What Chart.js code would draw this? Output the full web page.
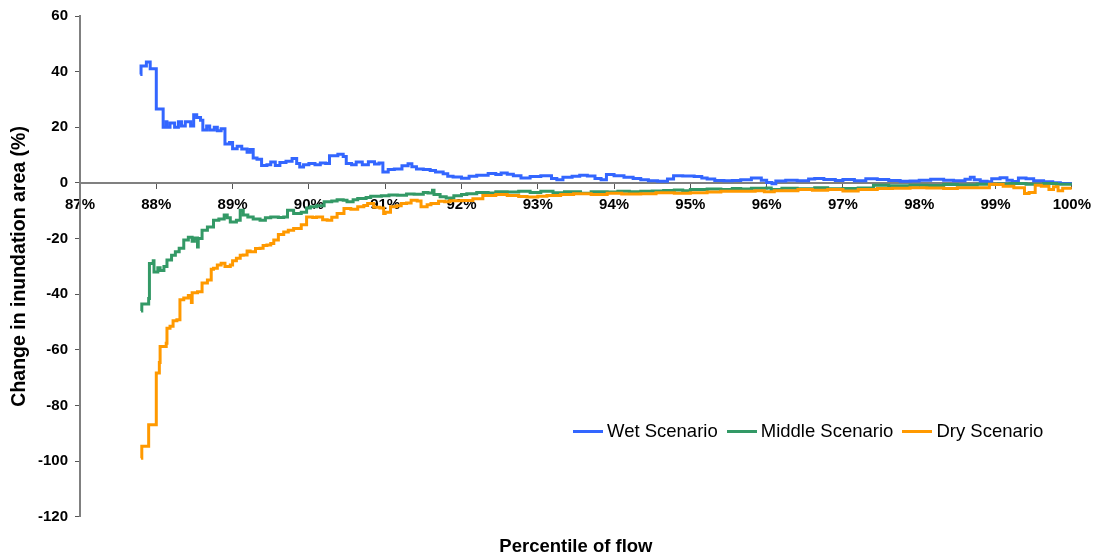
<!DOCTYPE html>
<html>
<head>
<meta charset="utf-8">
<title>Change in inundation area</title>
<script src="https://cdn.jsdelivr.net/npm/chart.js@4.4.1/dist/chart.umd.min.js"></script>
<style>
  html, body { margin: 0; padding: 0; background: #fff; }
  #wrap { position: relative; width: 1099px; height: 558px; }
  #legend {
    position: absolute; left: 573px; top: 419px;
    display: flex; align-items: center; white-space: nowrap;
    font: 18.5px "Liberation Sans", Arial, sans-serif; line-height: 24px; color: #000;
  }
  #legend .item { display: flex; align-items: center; margin-right: 9px; }
  #legend .swatch { display: inline-block; width: 30px; height: 3px; margin-right: 4px; }
</style>
</head>
<body>
<div id="wrap">
  <canvas id="chart" width="1099" height="558"></canvas>
  <div id="legend"></div>
</div>
<script>
// step change points: percentile of flow -> change in area (%)
const wetPct = [87.79, 87.80, 87.87, 87.92, 88.00, 88.09, 88.13, 88.14, 88.18, 88.24, 88.29, 88.33, 88.38, 88.45,
  88.49, 88.53, 88.58, 88.61, 88.66, 88.70, 88.76, 88.80, 88.85, 88.90, 88.96, 89.00, 89.06, 89.12, 89.19, 89.23,
  89.27, 89.32, 89.38, 89.45, 89.50, 89.56, 89.62, 89.70, 89.78, 89.84, 89.88, 89.93, 90.00, 90.08, 90.15, 90.22,
  90.27, 90.38, 90.45, 90.49, 90.56, 90.62, 90.70, 90.78, 90.86, 90.92, 90.97, 91.04, 91.12, 91.22, 91.30, 91.35,
  91.41, 91.50, 91.59, 91.66, 91.76, 91.82, 91.89, 92.00, 92.10, 92.20, 92.35, 92.45, 92.52, 92.60, 92.68, 92.78,
  92.90, 93.04, 93.18, 93.25, 93.33, 93.45, 93.55, 93.65, 93.75, 93.83, 93.90, 94.00, 94.13, 94.25, 94.35, 94.45,
  94.57, 94.70, 94.78, 94.90, 95.05, 95.15, 95.22, 95.32, 95.44, 95.55, 95.66, 95.80, 95.93, 96.00, 96.07, 96.12,
  96.25, 96.40, 96.55, 96.63, 96.75, 96.90, 97.00, 97.15, 97.30, 97.45, 97.60, 97.75, 97.88, 98.00, 98.15, 98.32,
  98.45, 98.60, 98.67, 98.72, 98.80, 98.89, 98.95, 99.06, 99.15, 99.22, 99.30, 99.40, 99.50, 99.63, 99.75, 99.85, 100.00];
const wetChange = [39, 42, 43.5, 41, 26.6, 20, 22, 20, 21.5, 20, 22, 20.5, 22, 20.5,
  24.5, 23.5, 22.5, 19, 20.5, 19, 20, 18.8, 19.5, 14, 14.5, 12.3, 13.2, 12.2, 11, 12,
  9, 8.5, 6.3, 6.5, 7.5, 6.3, 7.3, 7.8, 8.8, 7, 5.7, 6.5, 7, 6.5, 7.2, 7,
  9.8, 10.3, 9.5, 7, 6.5, 7.5, 6.5, 7.6, 6.8, 7.2, 3.9, 4.8, 5, 6.2, 6.9, 5.8,
  5, 4.8, 4.5, 3.9, 3.3, 2.4, 2.1, 1.7, 2.4, 2.8, 3.4, 3, 3.6, 3.1, 2.6, 1.8,
  2.3, 2.6, 1.6, 1.1, 2.0, 2.4, 2.8, 2.5, 1.6, 1.1, 3.0, 2.6, 2.0, 1.6, 1.1, 0.8,
  0.6, 1.4, 2.6, 2.5, 2.3, 1.8, 1.4, 0.9, 0.8, 0.9, 1.1, 1.8, 1.0, 0.2, -0.3, 0.7,
  1.0, 0.8, 1.4, 1.6, 1.2, 0.9, 1.2, 0.8, 1.5, 1.2, 0.9, 0.6, 0.7, 1.0, 1.3, 1.0,
  0.8, 1.3, 2.0, 1.1, 0.6, 0.4, 1.5, 1.9, 1.0, 0.5, 1.8, 1.5, 0.8, 0.4, 0.1, -0.2, -0.3];

const middlePct = [87.80, 87.81, 87.90, 87.91, 87.96, 87.97, 88.02, 88.05, 88.10, 88.14, 88.20, 88.25, 88.30, 88.36,
  88.42, 88.47, 88.50, 88.54, 88.55, 88.60, 88.67, 88.75, 88.82, 88.89, 88.93, 88.97, 89.05, 89.10, 89.14, 89.20,
  89.27, 89.36, 89.43, 89.50, 89.60, 89.67, 89.72, 89.80, 89.90, 89.97, 90.02, 90.10, 90.20, 90.30, 90.37, 90.45,
  90.50, 90.58, 90.64, 90.75, 90.81, 90.95, 91.05, 91.16, 91.28, 91.38, 91.50, 91.56, 91.62, 91.64, 91.72, 91.80,
  91.90, 92.00, 92.07, 92.20, 92.35, 92.45, 92.60, 92.75, 92.90, 93.04, 93.20, 93.35, 93.56, 93.70, 93.91, 94.05,
  94.20, 94.35, 94.50, 94.65, 94.79, 94.90, 95.00, 95.22, 95.40, 95.55, 95.66, 95.80, 96.00, 96.06, 96.20, 96.40,
  96.63, 96.80, 97.00, 97.20, 97.40, 97.60, 97.88, 98.10, 98.32, 98.50, 98.76, 99.00, 99.19, 99.40, 99.63, 99.80, 100.00];
const middleChange = [-46, -43.5, -41.5, -29, -28, -32, -30.5, -31.5, -30, -27.7, -26, -24.7, -23.5, -20.5,
  -19.5, -21, -19.8, -23, -20, -17, -15.8, -13.4, -13, -11.5, -12.5, -14, -13.4, -9.8, -11.5, -12.2,
  -13, -13.4, -12.5, -12.2, -12.4, -12.2, -9.8, -11, -10.5, -9, -8.6, -8.2, -6.8, -6.5, -6.0, -6.2,
  -6.8, -6.0, -5.6, -5.2, -4.8, -4.6, -4.3, -4.4, -4.0, -4.1, -3.4, -3.6, -2.6, -4.2, -5.0, -5.4,
  -4.6, -4.2, -3.9, -3.4, -3.6, -3.2, -3.3, -3.0, -3.4, -3.0, -3.5, -3.2, -3.7, -3.2, -3.3, -3.0,
  -3.2, -3.0, -2.9, -2.7, -2.5, -2.8, -2.4, -2.2, -2.4, -2.0, -2.2, -1.9, -1.8, -2.4, -1.9, -2.1,
  -1.7, -2.1, -2.0, -1.8, -0.8, -1.0, -0.8, -0.9, -0.6, -0.7, -0.5, -0.4, -0.2, -0.5, -0.2, -0.5, -0.7];

const dryPct = [87.80, 87.81, 87.90, 88.00, 88.04, 88.05, 88.13, 88.14, 88.18, 88.22, 88.27, 88.31, 88.36, 88.42,
  88.46, 88.47, 88.54, 88.60, 88.67, 88.72, 88.75, 88.80, 88.85, 88.90, 88.97, 89.00, 89.05, 89.10, 89.14, 89.19,
  89.23, 89.30, 89.36, 89.40, 89.45, 89.50, 89.54, 89.60, 89.67, 89.73, 89.80, 89.90, 89.97, 90.05, 90.10, 90.18,
  90.24, 90.30, 90.37, 90.46, 90.55, 90.64, 90.72, 90.77, 90.85, 90.93, 90.98, 91.00, 91.07, 91.15, 91.21, 91.28,
  91.34, 91.42, 91.47, 91.55, 91.60, 91.70, 91.78, 91.85, 92.00, 92.15, 92.28, 92.45, 92.60, 92.75, 92.86, 93.00,
  93.12, 93.30, 93.47, 93.70, 93.91, 94.10, 94.35, 94.55, 94.79, 95.00, 95.22, 95.40, 95.66, 95.85, 95.97, 96.10,
  96.41, 96.60, 96.80, 97.00, 97.20, 97.45, 97.65, 97.88, 98.10, 98.32, 98.50, 98.76, 98.92, 99.00, 99.10, 99.24,
  99.38, 99.44, 99.52, 99.60, 99.70, 99.76, 99.82, 99.88, 100.00];
const dryChange = [-99, -94.6, -86.9, -68.3, -64.5, -58.8, -57.6, -52.2, -51.5, -49.5, -49.2, -42, -41.4, -40.5,
  -43, -39.5, -39.1, -36, -34.9, -31, -30.7, -29.5, -28.9, -30, -29.5, -28, -27.1, -26, -25.9, -24.5,
  -24.7, -23.6, -23.5, -22.5, -22.3, -21.8, -20.5, -18.5, -17.6, -17, -16.4, -15, -12.2, -12.4, -12.2, -13.2,
  -13.4, -12.3, -11, -9.2, -9.5, -8.6, -8.1, -7.4, -8.7, -9, -11, -10.5, -8.6, -8.2, -7.4, -7.2,
  -6.2, -6.5, -8.6, -7.8, -7.4, -6.6, -6.8, -6.4, -6.3, -5.7, -4.5, -4.2, -4.5, -4.9, -5.1, -4.8,
  -4.5, -4.2, -3.9, -4.2, -3.7, -4.0, -3.9, -3.5, -3.7, -3.5, -3.3, -3.0, -3.0, -2.8, -3.2, -2.8,
  -2.4, -2.6, -2.4, -2.9, -2.4, -2.0, -1.9, -1.7, -1.8, -2.0, -1.7, -1.7, -0.5, -0.6, -1.2, -1.7,
  -3.8, -3.4, -0.8, -1.2, -2.4, -1.4, -2.8, -1.9, -2.0];

const seriesNames = ['Wet Scenario', 'Middle Scenario', 'Dry Scenario'];
const yTicks = [-120, -100, -80, -60, -40, -20, 0, 20, 40, 60];
const xTicks = [87, 88, 89, 90, 91, 92, 93, 94, 95, 96, 97, 98, 99, 100];

function pairs(xs, ys) {
  return xs.map((x, i) => ({ x: x, y: ys[i] }));
}

Chart.defaults.font.family = '"Liberation Sans", Arial, sans-serif';
Chart.defaults.color = '#000';

const lineStyle = {
  stepped: true,
  borderWidth: 3,
  pointRadius: 0,
  pointHoverRadius: 0,
  fill: false
};

const chart = new Chart(document.getElementById('chart'), {
  type: 'line',
  data: {
    datasets: [
      Object.assign({ label: seriesNames[0], data: pairs(wetPct, wetChange), borderColor: '#3366FF', backgroundColor: '#3366FF', order: 2 }, lineStyle),
      Object.assign({ label: seriesNames[1], data: pairs(middlePct, middleChange), borderColor: '#339966', backgroundColor: '#339966', order: 1 }, lineStyle),
      Object.assign({ label: seriesNames[2], data: pairs(dryPct, dryChange), borderColor: '#FF9900', backgroundColor: '#FF9900', order: 0 }, lineStyle)
    ]
  },
  options: {
    responsive: false,
    animation: false,
    layout: {
      padding: { left: 0, right: 27, top: 16, bottom: 0 }
    },
    plugins: {
      legend: { display: false },
      tooltip: { enabled: false },
      title: { display: false }
    },
    scales: {
      x: {
        type: 'linear',
        position: { y: 0 },
        min: xTicks[0],
        max: xTicks[xTicks.length - 1],
        afterBuildTicks: (scale) => { scale.ticks = xTicks.map(v => ({ value: v })); },
        afterFit: (scale) => { scale.height = 0; },
        ticks: {
          autoSkip: false,
          maxRotation: 0,
          padding: 8,
          font: { size: 15, weight: 'bold' },
          callback: (v) => v + '%'
        },
        grid: {
          drawOnChartArea: false,
          drawTicks: true,
          tickLength: 5,
          color: '#555'
        },
        border: { display: true, color: '#808080', width: 2 }
      },
      x2: {
        type: 'linear',
        position: 'bottom',
        min: xTicks[0],
        max: xTicks[xTicks.length - 1],
        ticks: { display: false },
        grid: { display: false, drawTicks: false },
        border: { display: false },
        title: {
          display: true,
          text: 'Percentile of flow',
          font: { size: 18.5, weight: 'bold' },
          padding: { top: 19, bottom: 0 }
        }
      },
      y: {
        type: 'linear',
        position: 'left',
        min: yTicks[0],
        max: yTicks[yTicks.length - 1],
        afterBuildTicks: (scale) => { scale.ticks = yTicks.map(v => ({ value: v })); },
        afterFit: (scale) => { scale.width = 80; },
        ticks: {
          padding: 7,
          font: { size: 15, weight: 'bold' }
        },
        grid: {
          drawOnChartArea: false,
          drawTicks: true,
          tickLength: 5,
          color: '#555'
        },
        border: { display: true, color: '#808080', width: 2 },
        title: {
          display: true,
          text: 'Change in inundation area (%)',
          font: { size: 19.5, weight: 'bold' },
          padding: { top: 8, bottom: 2 }
        }
      }
    }
  }
});

// legend drawn as html, built from the datasets
const legendBox = document.getElementById('legend');
chart.data.datasets.forEach((ds) => {
  const item = document.createElement('span');
  item.className = 'item';
  const swatch = document.createElement('span');
  swatch.className = 'swatch';
  swatch.style.background = ds.borderColor;
  const text = document.createElement('span');
  text.textContent = ds.label;
  item.appendChild(swatch);
  item.appendChild(text);
  legendBox.appendChild(item);
});
</script>
</body>
</html>
